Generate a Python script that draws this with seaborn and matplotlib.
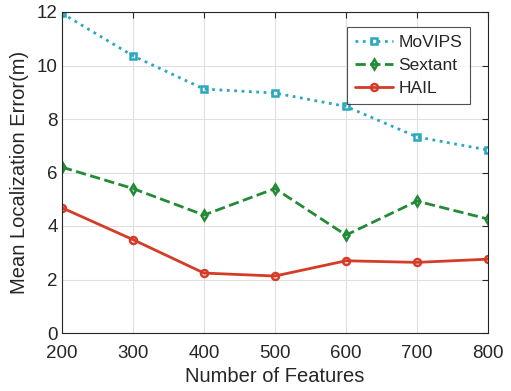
import numpy as np
import pandas as pd
import matplotlib
matplotlib.use("Agg")
import matplotlib.pyplot as plt
import seaborn as sns

features = [200, 300, 400, 500, 600, 700, 800]
movips = [11.95, 10.36, 9.12, 8.97, 8.47, 7.33, 6.84]
sextant = [6.20, 5.40, 4.41, 5.40, 3.66, 4.93, 4.26]
hail = [4.68, 3.49, 2.24, 2.13, 2.70, 2.64, 2.76]

series = ["MoVIPS", "Sextant", "HAIL"]
colors = {"MoVIPS": "#2aa8bd", "Sextant": "#238a35", "HAIL": "#d43c27"}
styles = {"MoVIPS": ":", "Sextant": "--", "HAIL": "-"}
markers = {"MoVIPS": "s", "Sextant": "d", "HAIL": "o"}

df = pd.DataFrame({
    "features": features * 3,
    "error": movips + sextant + hail,
    "method": [s for s in series for _ in features],
})

sns.set_theme(style="whitegrid")
plt.rcParams["font.family"] = ["Liberation Sans", "DejaVu Sans"]

fig = plt.figure(figsize=(5.11, 3.91), dpi=100)
ax = fig.add_axes([62 / 511, 1 - 333 / 391, 426 / 511, 321 / 391])

for name in series:
    sub = df[df["method"] == name]
    sns.lineplot(data=sub, x="features", y="error", ax=ax, label=name,
                 color=colors[name], linestyle=styles[name], linewidth=2,
                 marker=markers[name], markersize=5, markerfacecolor="none",
                 markeredgecolor=colors[name], markeredgewidth=1.8)

ax.set_xlim(200, 800)
ax.set_ylim(0, 12)
ax.set_xticks(features)
ax.set_yticks(np.arange(0, 13, 2))
ax.grid(True, color="#e0e0e0", linewidth=0.8)
for sp in ax.spines.values():
    sp.set_visible(True)
    sp.set_color("#262626")
    sp.set_linewidth(0.8)
ax.tick_params(direction="in", length=4, width=0.8, labelsize=13.5,
               colors="#262626", top=True, right=True, pad=3)
ax.tick_params(axis="x", pad=9)
ax.set_xlabel("Number of Features", fontsize=14.5, color="#262626", labelpad=3)
ax.set_ylabel("Mean Localization Error(m)", fontsize=14.5, color="#262626", labelpad=6)

leg = ax.legend(loc="upper right", bbox_to_anchor=(0.97, 0.97), fontsize=12.5,
                frameon=True, fancybox=False, edgecolor="#262626",
                handlelength=2.2, borderpad=0.45, labelspacing=0.45,
                handletextpad=0.3, borderaxespad=0.3)
leg.get_frame().set_linewidth(0.8)

fig.savefig("out.png", dpi=100)
